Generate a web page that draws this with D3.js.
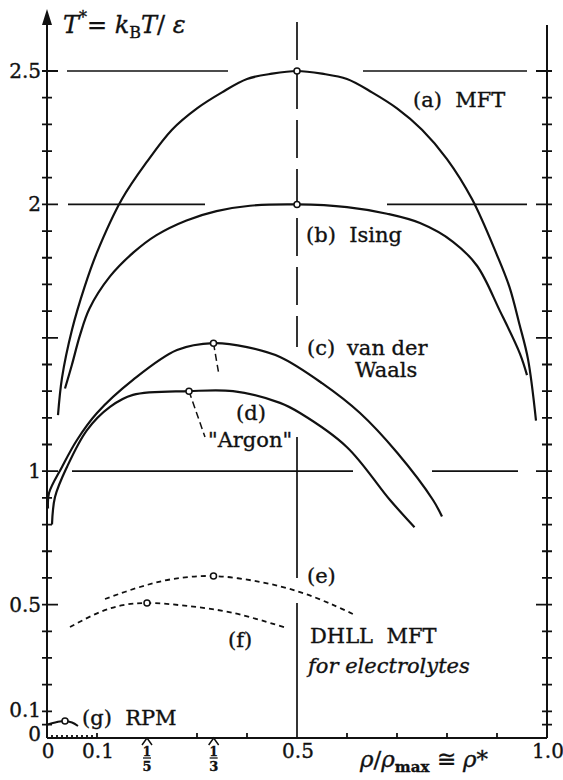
<!DOCTYPE html>
<html>
<head>
<meta charset="utf-8">
<script src="https://cdn.jsdelivr.net/npm/d3@7"></script>
<style>
  html, body { margin: 0; padding: 0; background: #fff; overflow: hidden; }
  svg { display: block; }
  text { font-family: "DejaVu Serif", "Liberation Serif", serif; fill: #111; white-space: pre; stroke: #111; stroke-width: 0.35px; }
</style>
</head>
<body>
<svg width="563" height="780"></svg>
<script>
// coexistence curves, [rho*, T*]
const mftCurve = [[0.022,1.21],[0.03,1.35],[0.05,1.53],[0.075,1.69],[0.1,1.82],[0.15,2.02],[0.2,2.16],[0.25,2.28],[0.3,2.36],[0.35,2.42],[0.4,2.47],[0.45,2.49],[0.5,2.5],[0.55,2.49],[0.6,2.47],[0.65,2.42],[0.7,2.36],[0.75,2.28],[0.8,2.17],[0.85,2.02],[0.9,1.81],[0.925,1.69],[0.945,1.55],[0.962,1.42],[0.978,1.19]];
const isingCurve = [[0.036,1.31],[0.05,1.40],[0.066,1.51],[0.085,1.61],[0.126,1.73],[0.173,1.82],[0.219,1.885],[0.279,1.94],[0.339,1.975],[0.406,1.995],[0.5,2.0],[0.6,1.99],[0.68,1.965],[0.746,1.93],[0.812,1.86],[0.86,1.77],[0.906,1.60],[0.946,1.44],[0.96,1.36]];
const vdwCurve = [[0.002,0.86],[0.004,0.918],[0.03,1.016],[0.06,1.117],[0.1,1.218],[0.172,1.342],[0.26,1.454],[0.333,1.48],[0.40,1.465],[0.466,1.428],[0.55,1.33],[0.626,1.218],[0.70,1.07],[0.772,0.892],[0.79,0.83]];
const argonCurve = [[0.01,0.80],[0.016,0.903],[0.04,1.016],[0.08,1.154],[0.126,1.241],[0.172,1.286],[0.284,1.30],[0.372,1.30],[0.466,1.256],[0.506,1.218],[0.6,1.09],[0.686,0.892],[0.735,0.79]];
const dhllCurve = [[0.116,0.521],[0.186,0.566],[0.252,0.596],[0.333,0.607],[0.426,0.585],[0.506,0.547],[0.572,0.499],[0.616,0.461]];
const dhllMftCurve = [[0.046,0.416],[0.106,0.472],[0.152,0.498],[0.2,0.506],[0.28,0.495],[0.372,0.469],[0.48,0.412]];
const rpmCurve = [[0.0,0.05],[0.02,0.06],[0.036,0.064],[0.05,0.058],[0.062,0.045]];
const criticalPoints = [[0.5,2.5],[0.5,2.0],[0.333,1.48],[0.284,1.30],[0.333,0.607],[0.2,0.506],[0.036,0.064]];

const yTickLabels = [0, 0.1, 0.5, 1, 2, 2.5];
const yTickText = ['0', '0.1', '0.5', '1', '2', '2.5'];
const xTickLabels = [0, 0.1, 0.5, 1.0];
const xTickText = ['0', '0.1', '0.5', '1.0'];
const fractionTicks = [1/5, 1/3];
const fractionDen = ['5', '3'];

const svg = d3.select('svg');
const x = d3.scaleLinear().domain([0, 1]).range([47, 547]);
const y = d3.scaleLinear().domain([0, 2.5]).range([738, 71]);
const ink = '#111';

// guide lines (long dashes at 2.5 and 2, solid at 1)
const guides = [
  [2.5, 0.04, 0.362], [2.5, 0.632, 0.96],
  [2, 0.042, 0.316], [2, 0.68, 0.96],
  [1, 0.05, 0.612], [1, 0.77, 0.942]
];
svg.selectAll('line.guide').data(guides).enter().append('line').attr('class', 'guide')
  .attr('x1', d => x(d[1])).attr('x2', d => x(d[2]))
  .attr('y1', d => y(d[0])).attr('y2', d => y(d[0]))
  .attr('stroke', ink).attr('stroke-width', 1.7);

// vertical line at rho* = 0.5: dashed on top, solid below
svg.append('line').attr('x1', x(0.5)).attr('x2', x(0.5)).attr('y1', 22).attr('y2', 347)
  .attr('stroke', ink).attr('stroke-width', 1.7).attr('stroke-dasharray', '38,11');
[[437, 578], [603, 738]].forEach(s => {
  svg.append('line').attr('x1', x(0.5)).attr('x2', x(0.5)).attr('y1', s[0]).attr('y2', s[1])
    .attr('stroke', ink).attr('stroke-width', 1.7);
});

// axes frame
svg.append('line').attr('x1', x(0)).attr('x2', x(0)).attr('y1', y(0)).attr('y2', 22).attr('stroke', ink).attr('stroke-width', 2);
svg.append('line').attr('x1', x(1)).attr('x2', x(1)).attr('y1', y(0)).attr('y2', 25).attr('stroke', ink).attr('stroke-width', 2);
svg.append('line').attr('x1', x(0)).attr('x2', x(1)).attr('y1', y(0)).attr('y2', y(0)).attr('stroke', ink).attr('stroke-width', 2);
svg.append('path').attr('d', `M${x(0)},9 L${x(0) - 5},25 L${x(0) + 5},25 Z`).attr('fill', ink);

// tick marks, built as one path
const yTicks = [0.05].concat(d3.range(1, 26).map(i => i / 10));
const isMajor = v => [0.5, 1, 1.5, 2, 2.5].some(m => Math.abs(m - v) < 1e-6);
const xMinor = d3.range(1, 10).map(i => i / 100);
const xMajor = [0.1, 0.3, 0.4, 0.6, 0.7, 0.8, 0.9];
const tp = d3.path();
yTicks.forEach(v => {
  const len = isMajor(v) ? 11 : 5;
  tp.moveTo(x(0) - 5, y(v)); tp.lineTo(x(0) + len, y(v));
  tp.moveTo(x(1) - len, y(v)); tp.lineTo(x(1) + 5, y(v));
});
xMinor.forEach(v => { tp.moveTo(x(v), y(0)); tp.lineTo(x(v), y(0) - 3); });
xMajor.forEach(v => { tp.moveTo(x(v), y(0)); tp.lineTo(x(v), y(0) - 5); });
svg.append('path').attr('d', tp.toString()).attr('fill', 'none').attr('stroke', ink).attr('stroke-width', 1.8);

// tick labels
svg.selectAll('text.ylab').data(yTickLabels).enter().append('text').attr('class', 'ylab')
  .attr('x', x(0) - 6).attr('y', d => y(d) + (d === 0 ? 3 : (d === 0.1 ? 6 : 7)))
  .attr('text-anchor', 'end').attr('font-size', 20)
  .text((d, i) => yTickText[i]);
svg.selectAll('text.xlab').data(xTickLabels).enter().append('text').attr('class', 'xlab')
  .attr('x', d => x(d) + 1).attr('y', 758)
  .attr('text-anchor', 'middle').attr('font-size', 20)
  .text((d, i) => xTickText[i]);

// 1/5 and 1/3 markers
const frac = svg.selectAll('g.frac').data(fractionTicks).enter().append('g').attr('class', 'frac')
  .attr('transform', d => `translate(${x(d)},0)`);
frac.append('path').attr('d', 'M-5,745 L0,738 L5,745').attr('fill', 'none').attr('stroke', ink).attr('stroke-width', 1.5);
frac.append('text').attr('y', 756).attr('text-anchor', 'middle').attr('font-size', 12).attr('font-weight', 'bold').text('1');
frac.append('line').attr('x1', -4).attr('x2', 4).attr('y1', 758).attr('y2', 758).attr('stroke', ink).attr('stroke-width', 1.3);
frac.append('text').attr('y', 771).attr('text-anchor', 'middle').attr('font-size', 13).attr('font-weight', 'bold')
  .text((d, i) => fractionDen[i]);

// curves
const line = d3.line().x(d => x(d[0])).y(d => y(d[1])).curve(d3.curveCatmullRom.alpha(0.5));
[mftCurve, isingCurve, vdwCurve, argonCurve].forEach(c => {
  svg.append('path').datum(c).attr('d', line)
    .attr('fill', 'none').attr('stroke', ink).attr('stroke-width', 2.2);
});
[dhllCurve, dhllMftCurve].forEach(c => {
  svg.append('path').datum(c).attr('d', line)
    .attr('fill', 'none').attr('stroke', ink).attr('stroke-width', 1.8).attr('stroke-dasharray', '5,4');
});
svg.append('path').datum(rpmCurve).attr('d', line)
  .attr('fill', 'none').attr('stroke', ink).attr('stroke-width', 2);

// leaders from the vdW and argon critical points
const leaders = [[[0.333, 1.48], [0.344, 1.36]], [[0.284, 1.30], [0.316, 1.128]]];
svg.selectAll('line.leader').data(leaders).enter().append('line').attr('class', 'leader')
  .attr('x1', d => x(d[0][0])).attr('y1', d => y(d[0][1]))
  .attr('x2', d => x(d[1][0])).attr('y2', d => y(d[1][1]))
  .attr('stroke', ink).attr('stroke-width', 1.5).attr('stroke-dasharray', '7,4');

svg.selectAll('circle.crit').data(criticalPoints).enter().append('circle').attr('class', 'crit')
  .attr('cx', d => x(d[0])).attr('cy', d => y(d[1])).attr('r', 3)
  .attr('fill', '#fff').attr('stroke', ink).attr('stroke-width', 1.5);

// curve labels
const labels = [
  ['(a)  MFT', 413, 107, 'normal'],
  ['(b)  Ising', 306, 242, 'normal'],
  ['(c)', 307, 355, 'normal'],
  ['van der', 347, 355, 'normal'],
  ['Waals', 355, 377, 'normal'],
  ['(d)', 236, 420, 'normal'],
  ['"Argon"', 208, 447, 'normal'],
  ['(e)', 307, 583, 'normal'],
  ['(f)', 228, 647, 'normal'],
  ['DHLL  MFT', 310, 643, 'normal'],
  ['for electrolytes', 308, 673, 'italic'],
  ['(g)  RPM', 82, 725, 'normal']
];
svg.selectAll('text.lbl').data(labels).enter().append('text').attr('class', 'lbl')
  .attr('x', d => d[1]).attr('y', d => d[2]).attr('font-size', 21)
  .attr('font-style', d => d[3]).text(d => d[0]);

// axis titles
const yt = svg.append('text').attr('x', 63).attr('y', 33).attr('font-size', 24);
yt.append('tspan').attr('font-style', 'italic').text('T');
yt.append('tspan').attr('font-size', 16).attr('dy', -10).text('*');
yt.append('tspan').attr('dy', 10).text('= ');
yt.append('tspan').attr('font-style', 'italic').text('k');
yt.append('tspan').attr('font-size', 16).attr('dy', 5).text('B');
yt.append('tspan').attr('dy', -5).attr('font-style', 'italic').text('T');
yt.append('tspan').text('/ ');
yt.append('tspan').attr('font-style', 'italic').text('ε');

const xt = svg.append('text').attr('x', 360).attr('y', 767).attr('font-size', 23);
xt.append('tspan').attr('font-style', 'italic').text('ρ');
xt.append('tspan').text('/');
xt.append('tspan').attr('font-style', 'italic').text('ρ');
xt.append('tspan').attr('font-size', 15).attr('font-weight', 'bold').attr('dy', 5).text('max');
xt.append('tspan').attr('dy', -5).text(' ≅ ');
xt.append('tspan').attr('font-style', 'italic').text('ρ');
xt.append('tspan').text('*');
</script>
</body>
</html>
